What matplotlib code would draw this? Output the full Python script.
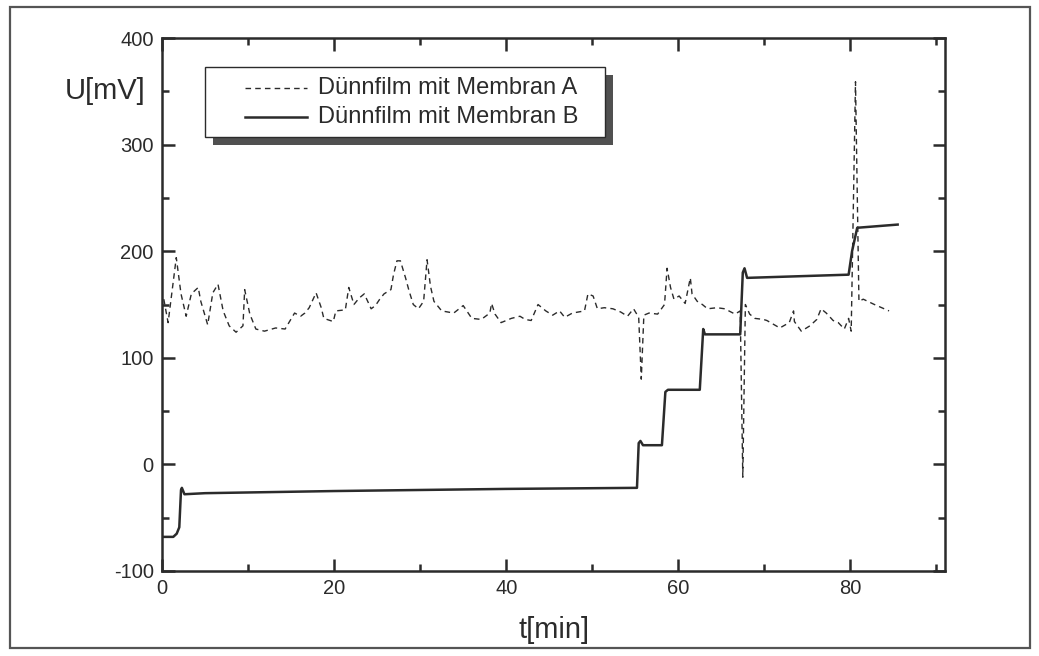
import numpy as np
import matplotlib
matplotlib.use("Agg")
import matplotlib.pyplot as plt
from matplotlib.patches import Rectangle
from matplotlib.lines import Line2D
from matplotlib.ticker import MultipleLocator

plt.rcParams["font.family"] = ["Liberation Sans", "DejaVu Sans"]
plt.rcParams["axes.unicode_minus"] = False

# ── data ─────────────────────────────────────────────────────────
t_a = [0.2, 0.7, 1.65, 2.2, 2.8, 3.4, 4.2, 4.5, 5.3, 5.9, 6.5, 7.1, 7.8, 8.6,
       9.4, 9.6, 10.2, 10.9, 11.9, 13.2, 14.3, 15.4, 16.1, 16.6, 17.1, 17.9,
       18.5, 18.8, 19.9, 20.2, 21.3, 21.7, 22.3, 22.9, 23.5, 24.3, 24.8, 25.3,
       25.8, 26.6, 26.9, 27.3, 27.7, 28.3, 28.7, 29.2, 29.8, 30.4, 30.8, 31.2,
       31.6, 32.5, 33.9, 35.0, 36.0, 37.1, 38.1, 38.3, 38.7, 39.4, 40.6, 41.6,
       42.2, 42.9, 43.7, 44.6, 45.4, 46.2, 46.8, 47.7, 49.1, 49.5, 50.1, 50.6,
       51.4, 52.4, 53.3, 54.1, 54.8, 55.4, 55.7, 56.0, 56.6, 57.6, 58.4, 58.7,
       59.1, 59.5, 60.1, 60.8, 61.4, 61.6, 62.2, 62.8, 63.4, 64.5, 65.4, 66.6,
       67.2, 67.5, 67.8, 68.3, 68.9, 69.9, 70.3, 71.8, 72.9, 73.4, 73.5, 74.3,
       75.3, 76.1, 76.6, 77.2, 78.0, 78.6, 79.3, 79.8, 80.1, 80.6, 81.0, 81.5,
       82.8, 84.5]
u_a = [155, 133, 194, 160, 139, 160, 166, 153, 131, 161, 169, 144, 130, 124,
       130, 164, 141, 127, 125, 128, 127, 142, 139, 142, 147, 161,
       147, 137, 134, 144, 145, 166, 150, 156, 160, 146, 149, 155,
       160, 164, 178, 191, 191, 175, 163, 150, 146, 153, 192, 167,
       153, 144, 142, 149, 137, 136, 142, 151, 141, 133, 137, 139,
       136, 135, 150, 144, 140, 144, 138, 142, 144, 160, 158, 146,
       147, 146, 143, 139, 146, 138, 80, 140, 142, 141, 150, 184,
       166, 155, 158, 151, 175, 160, 153, 150, 146, 147, 146, 141,
       144, -12, 150, 141, 137, 136, 135, 128, 133, 144, 134, 125,
       130, 136, 146, 142, 135, 133, 127, 137, 125, 359, 153, 155,
       150, 144]

t_b = [0, 1.3, 1.7, 2.0, 2.2, 2.3, 2.6, 5, 20, 40, 55.2, 55.4, 55.6, 55.9,
       58.1, 58.5, 58.8, 62.5, 62.9, 63.1, 67.2, 67.5, 67.7, 68.0, 79.8,
       80.2, 80.8, 85.5]
u_b = [-68, -68, -65, -59, -24, -22, -28, -27, -25, -23, -22, 20, 22, 18,
       18, 68, 70, 70, 127, 122, 122, 180, 184, 175, 178, 200, 222, 225]

label_a = "Dünnfilm mit Membran A"
label_b = "Dünnfilm mit Membran B"

# ── figure ───────────────────────────────────────────────────────
fig = plt.figure(figsize=(10.39, 6.56), dpi=100)
ax = fig.add_axes([0.156, 0.1296, 0.7535, 0.8124])

ink = "#2b2b2b"
dash = (0, (4, 3))
ax.plot(t_a, u_a, color=ink, linestyle=dash, linewidth=1.0)
ax.plot(t_b, u_b, color=ink, linestyle="-", linewidth=1.8)

ax.set_xlim(0, 91)
ax.set_ylim(-100, 400)
ax.xaxis.set_major_locator(MultipleLocator(20))
ax.xaxis.set_minor_locator(MultipleLocator(10))
ax.yaxis.set_major_locator(MultipleLocator(100))
ax.yaxis.set_minor_locator(MultipleLocator(50))
ax.tick_params(which="both", direction="in", top=True, right=True,
               width=1.8, colors=ink, labelsize=14.5, pad=6)
ax.tick_params(which="major", length=9)
ax.tick_params(which="minor", length=5)
for sp in ax.spines.values():
    sp.set_linewidth(1.8)
    sp.set_color(ink)

fig.text(0.101, 0.862, "U[mV]", fontsize=21, color=ink, ha="center", va="center")
fig.text(0.533, 0.04, "t[min]", fontsize=21, color=ink, ha="center", va="center")

# legend box drawn by hand (square box with offset grey shadow)
W, H = 1039, 656
def fx(px):
    return px / W
def fy(py):
    return 1 - py / H

box_l, box_t, box_r, box_b = 205, 67, 605, 137
fig.patches.append(Rectangle((fx(box_l + 8), fy(box_b + 8)), fx(box_r - box_l), (box_b - box_t) / H,
                             transform=fig.transFigure, facecolor="#505050", edgecolor="none", zorder=5))
fig.patches.append(Rectangle((fx(box_l), fy(box_b)), fx(box_r - box_l), (box_b - box_t) / H,
                             transform=fig.transFigure, facecolor="white", edgecolor=ink,
                             linewidth=1.0, zorder=6))
for row_y, ls, lw, lab in [(88, dash, 1.0, label_a), (117, "-", 1.8, label_b)]:
    fig.lines.append(Line2D([fx(245), fx(307)], [fy(row_y), fy(row_y)], transform=fig.transFigure,
                            color=ink, linestyle=ls, linewidth=lw, zorder=7))
    fig.text(fx(318), fy(row_y), lab, fontsize=17, color=ink, ha="left", va="center", zorder=7)

# grey outer frame of the scan
fig.patches.append(Rectangle((0.010, 0.012), 0.981, 0.977, transform=fig.transFigure,
                             fill=False, edgecolor="#555555", linewidth=1.6))

fig.savefig("out.png", dpi=100)
